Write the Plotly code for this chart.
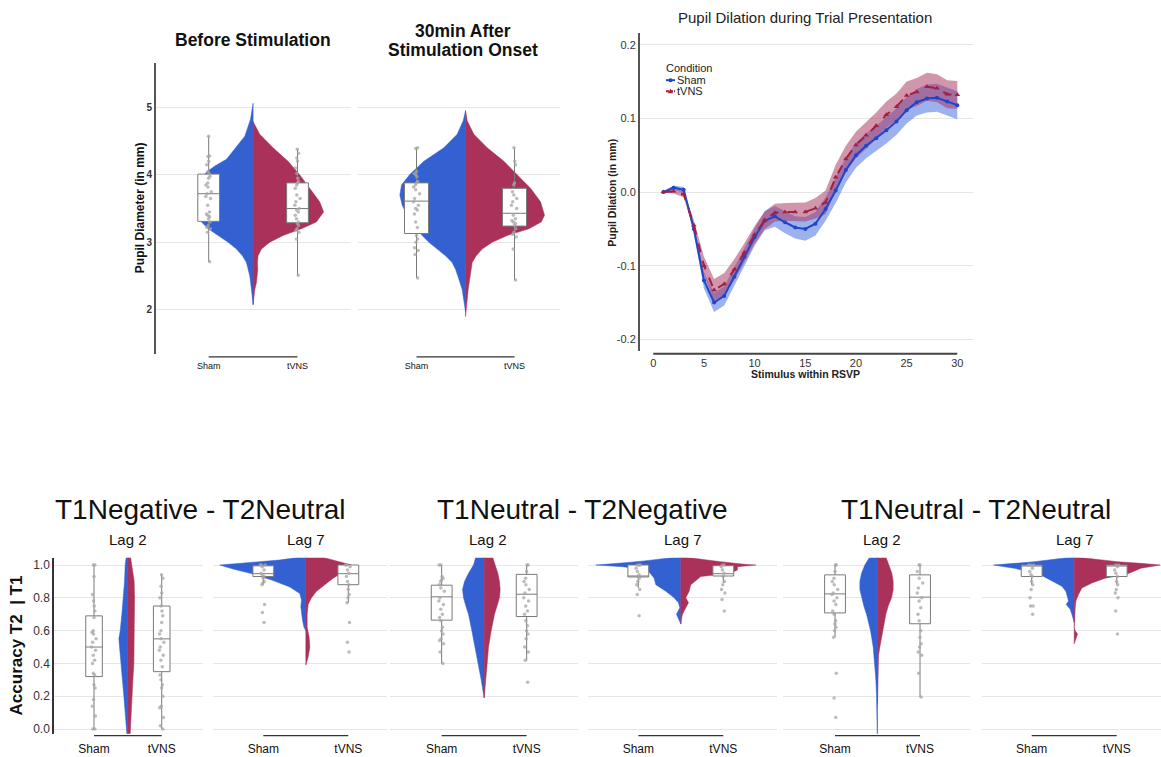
import numpy as np
import plotly.graph_objects as go

W, H = 1161, 757
FONT = "Liberation Sans, Arial, sans-serif"
BLUE = "#3461D1"
RED = "#A9315A"
GRID = "#e6e6e6"

groups = ["Sham", "tVNS"]

# ---------------- Pupil dilation time course ----------------
stimulus = list(range(1, 31))
sham_dil = [0.000, 0.006, 0.003, -0.050, -0.120, -0.150, -0.141, -0.115, -0.088, -0.061,
            -0.039, -0.033, -0.041, -0.048, -0.050, -0.043, -0.023, 0.002, 0.030, 0.050,
            0.063, 0.073, 0.084, 0.096, 0.111, 0.122, 0.127, 0.128, 0.123, 0.118]
sham_ci = [0.001, 0.003, 0.004, 0.007, 0.011, 0.013, 0.013, 0.012, 0.012, 0.012,
           0.013, 0.014, 0.015, 0.015, 0.016, 0.016, 0.016, 0.017, 0.017, 0.017,
           0.017, 0.017, 0.018, 0.018, 0.018, 0.018, 0.019, 0.019, 0.019, 0.019]
tvns_dil = [0.000, 0.001, -0.003, -0.045, -0.100, -0.133, -0.125, -0.105, -0.082, -0.058,
            -0.038, -0.028, -0.027, -0.027, -0.027, -0.022, -0.014, 0.020, 0.045, 0.064,
            0.077, 0.090, 0.105, 0.116, 0.131, 0.136, 0.143, 0.141, 0.133, 0.132]
tvns_ci = [0.001, 0.003, 0.004, 0.007, 0.012, 0.015, 0.015, 0.014, 0.013, 0.012,
           0.012, 0.012, 0.012, 0.012, 0.013, 0.014, 0.016, 0.017, 0.018, 0.018,
           0.018, 0.018, 0.018, 0.018, 0.019, 0.019, 0.019, 0.019, 0.019, 0.019]
dil_ticks = [-0.2, -0.1, 0.0, 0.1, 0.2]
dil_ticktext = ["-0.2", "-0.1", "0.0", "0.1", "0.2"]

# ---------------- Pupil diameter (violin density profiles, relative units) ----------------
before_sham_y = [5.06, 4.82, 4.57, 4.38, 4.23, 4.13, 4.05, 3.95, 3.80, 3.60, 3.40, 3.30, 3.20, 3.10,
                 3.00, 2.90, 2.80, 2.70, 2.50, 2.30, 2.10, 2.08]
before_sham_d = [0, 8, 25, 55, 80, 115, 138, 155, 163, 165, 165, 155, 135, 105, 75, 50, 32, 20, 10, 5, 2, 0]
before_tvns_y = [4.79, 4.60, 4.40, 4.20, 4.00, 3.80, 3.60, 3.45, 3.30, 3.20, 3.10, 3.00, 2.90, 2.80,
                 2.70, 2.60, 2.50, 2.40, 2.30, 2.20, 2.07]
before_tvns_d = [0, 20, 60, 105, 140, 170, 200, 212, 190, 145, 90, 50, 25, 15, 13, 14, 13, 10, 5, 2, 0]
after_sham_y = [4.95, 4.80, 4.60, 4.40, 4.20, 4.00, 3.85, 3.70, 3.55, 3.40, 3.25, 3.10, 3.00, 2.90,
                2.80, 2.70, 2.60, 2.50, 2.40, 2.30, 2.10, 1.97]
after_sham_d = [0, 7, 25, 65, 125, 168, 192, 197, 190, 175, 150, 130, 110, 85, 60, 40, 30, 23, 17, 10, 4, 0]
after_tvns_y = [4.95, 4.80, 4.60, 4.40, 4.20, 4.00, 3.80, 3.60, 3.40, 3.30, 3.20, 3.10, 3.00, 2.90,
                2.80, 2.70, 2.50, 2.30, 2.10, 1.90]
after_tvns_d = [0, 5, 25, 65, 115, 155, 195, 225, 237, 227, 190, 125, 80, 50, 32, 20, 13, 8, 4, 0]

# box stats: [q1, median, q3, lower whisker, upper whisker] for Sham, tVNS
before_box = [[3.31, 3.72, 4.01, 2.71, 4.57], [3.29, 3.50, 3.88, 2.51, 4.38]]
after_box = [[3.13, 3.61, 3.88, 2.47, 4.40], [3.24, 3.43, 3.80, 2.44, 4.40]]

before_sham_pts = [4.57, 4.28, 4.27, 4.20, 4.15, 4.05, 4.02, 3.98, 3.95, 3.88, 3.85, 3.82, 3.75, 3.72,
                   3.68, 3.65, 3.55, 3.45, 3.42, 3.40, 3.38, 3.35, 3.30, 3.25, 3.22, 3.20, 3.15, 2.71]
before_tvns_pts = [4.38, 4.32, 4.25, 4.20, 4.10, 4.02, 3.95, 3.90, 3.88, 3.85, 3.80, 3.70, 3.65, 3.60,
                   3.55, 3.50, 3.48, 3.45, 3.40, 3.35, 3.30, 3.28, 3.25, 3.20, 3.18, 3.15, 3.05, 2.51]
after_sham_pts = [4.40, 4.39, 4.05, 4.02, 4.00, 3.97, 3.90, 3.88, 3.85, 3.82, 3.78, 3.72, 3.65, 3.60,
                  3.55, 3.50, 3.48, 3.42, 3.30, 3.22, 3.10, 3.05, 3.00, 2.92, 2.88, 2.82, 2.47]
after_tvns_pts = [4.40, 4.20, 4.15, 3.88, 3.85, 3.75, 3.70, 3.65, 3.60, 3.55, 3.50, 3.40, 3.35, 3.32,
                  3.30, 3.28, 3.25, 3.20, 3.15, 3.12, 3.08, 2.90, 2.44]

# ---------------- Accuracy T2|T1 ----------------
negneu_l2_y = [1.05, 1.0, 0.9, 0.8, 0.7, 0.6, 0.55, 0.5, 0.4, 0.3, 0.2, 0.1, 0.0, -0.03]
negneu_l2_sham_d = [5, 8, 10, 13, 18, 23, 27, 25, 20, 15, 12, 8, 5, 3]
negneu_l2_tvns_d = [8, 12, 19, 20, 20, 20, 20, 20, 18, 15, 12, 10, 8, 7]
negneu_l7_sham_y = [1.05, 1.04, 1.03, 1.02, 1.01, 1.0, 0.975, 0.945, 0.905, 0.866, 0.826, 0.785, 0.745,
                    0.704, 0.664, 0.623, 0.60]
negneu_l7_sham_d = [10, 40, 80, 140, 200, 258, 218, 158, 98, 48, 18, 13, 15, 13, 10, 6, 0]
negneu_l7_tvns_y = [1.05, 1.03, 1.015, 1.0, 0.96, 0.92, 0.88, 0.84, 0.80, 0.76, 0.70, 0.62, 0.56, 0.50,
                    0.44, 0.39]
negneu_l7_tvns_d = [45, 80, 110, 137, 115, 82, 57, 32, 17, 7, 4, 4, 10, 12, 7, 0]

neuneg_l2_y = [1.05, 1.0, 0.95, 0.9, 0.85, 0.8, 0.75, 0.7, 0.6, 0.5, 0.4, 0.3, 0.25, 0.2, 0.19]
neuneg_l2_sham_d = [25, 32, 47, 59, 65, 62, 55, 47, 37, 27, 17, 9, 5, 2, 0]
neuneg_l2_tvns_d = [25, 33, 41, 46, 48, 46, 38, 31, 21, 13, 9, 5, 3, 1, 0]
neuneg_l7_sham_y = [1.05, 1.035, 1.025, 1.015, 1.005, 1.0, 0.99, 0.97, 0.92, 0.88, 0.84, 0.80, 0.77,
                    0.74, 0.70, 0.67, 0.64]
neuneg_l7_sham_d = [5, 60, 110, 160, 220, 255, 175, 100, 80, 75, 45, 20, 7, 3, 13, 7, 0]
neuneg_l7_tvns_y = [1.05, 1.035, 1.02, 1.005, 1.0, 0.99, 0.97, 0.95, 0.93, 0.88, 0.84, 0.80, 0.77,
                    0.74, 0.70, 0.67, 0.64]
neuneg_l7_tvns_d = [5, 60, 120, 190, 225, 170, 170, 150, 60, 30, 25, 15, 23, 15, 5, 2, 0]

neuneu_l2_sham_y = [1.05, 1.0, 0.95, 0.9, 0.85, 0.8, 0.75, 0.7, 0.6, 0.5, 0.4, 0.3, 0.2, 0.1, 0.0, -0.03]
neuneu_l2_sham_d = [23, 38, 48, 53, 53, 48, 41, 33, 21, 13, 8, 5, 3, 3, 1, 1]
neuneu_l2_tvns_y = [1.05, 1.0, 0.95, 0.9, 0.85, 0.8, 0.75, 0.7, 0.6, 0.5, 0.45, 0.4, 0.35, 0.25, 0.15]
neuneu_l2_tvns_d = [25, 35, 43, 47, 47, 42, 32, 25, 15, 7, 3, 2, 1, 1, 0]
neuneu_l7_sham_y = [1.05, 1.035, 1.02, 1.01, 1.0, 0.98, 0.95, 0.92, 0.89, 0.87, 0.84, 0.78, 0.76,
                    0.73, 0.70, 0.67, 0.65]
neuneu_l7_sham_d = [0, 60, 120, 180, 242, 180, 110, 82, 57, 37, 25, 17, 24, 12, 7, 4, 0]
neuneu_l7_tvns_y = [1.05, 1.035, 1.02, 1.01, 1.0, 0.98, 0.95, 0.93, 0.92, 0.89, 0.86, 0.82, 0.78,
                    0.74, 0.68, 0.64, 0.62, 0.60, 0.58, 0.55, 0.52]
neuneu_l7_tvns_d = [0, 60, 130, 200, 258, 200, 165, 120, 93, 53, 23, 13, 5, 3, 3, 1, 0, 3, 10, 6, 0]

negneu_l2_box = [[0.32, 0.50, 0.69, 0.0, 1.0], [0.35, 0.55, 0.75, 0.0, 0.94]]
negneu_l7_box = [[0.93, 0.947, 0.995, 0.88, 1.0], [0.88, 0.947, 1.0, 0.77, 1.0]]
neuneg_l2_box = [[0.664, 0.806, 0.877, 0.40, 1.0], [0.686, 0.822, 0.943, 0.417, 1.0]]
neuneg_l7_box = [[0.927, 0.933, 1.0, 0.86, 1.0], [0.933, 0.947, 0.996, 0.89, 1.0]]
neuneu_l2_box = [[0.708, 0.824, 0.94, 0.56, 1.0], [0.642, 0.804, 0.94, 0.196, 1.0]]
neuneu_l7_box = [[0.93, 0.995, 1.0, 0.88, 1.0], [0.93, 0.996, 1.0, 0.88, 1.0]]

negneu_l2_sham_pts = [1.0, 1.0, 0.93, 0.82, 0.78, 0.75, 0.72, 0.68, 0.60, 0.59, 0.58, 0.55, 0.53, 0.50,
                      0.48, 0.45, 0.42, 0.40, 0.34, 0.33, 0.27, 0.25, 0.18, 0.14, 0.08, 0.0, 0.0]
negneu_l2_tvns_pts = [0.94, 0.92, 0.87, 0.83, 0.80, 0.75, 0.72, 0.69, 0.65, 0.60, 0.58, 0.55, 0.53, 0.50,
                      0.48, 0.45, 0.42, 0.38, 0.33, 0.30, 0.27, 0.25, 0.20, 0.14, 0.13, 0.07, 0.02, 0.0]
negneu_l7_sham_pts = [1.0, 1.0, 1.0, 0.99, 0.97, 0.95, 0.94, 0.93, 0.92, 0.90, 0.89, 0.88, 0.76, 0.71, 0.65]
negneu_l7_tvns_pts = [1.0, 1.0, 0.99, 0.97, 0.95, 0.93, 0.90, 0.88, 0.85, 0.82, 0.80, 0.77, 0.65, 0.53, 0.47]
neuneg_l2_sham_pts = [1.0, 1.0, 0.93, 0.92, 0.91, 0.90, 0.88, 0.86, 0.84, 0.80, 0.78, 0.76, 0.73, 0.70,
                      0.68, 0.66, 0.62, 0.60, 0.58, 0.55, 0.54, 0.52, 0.47, 0.40]
neuneg_l2_tvns_pts = [1.0, 1.0, 0.96, 0.92, 0.90, 0.88, 0.85, 0.83, 0.80, 0.78, 0.75, 0.72, 0.70, 0.66,
                      0.63, 0.60, 0.58, 0.55, 0.50, 0.47, 0.42, 0.285]
neuneg_l7_sham_pts = [1.0, 1.0, 1.0, 0.98, 0.96, 0.94, 0.93, 0.92, 0.90, 0.88, 0.85, 0.82, 0.69]
neuneg_l7_tvns_pts = [1.0, 1.0, 0.99, 0.97, 0.95, 0.93, 0.90, 0.88, 0.85, 0.83, 0.79, 0.72]
neuneu_l2_sham_pts = [1.0, 1.0, 0.96, 0.92, 0.90, 0.88, 0.85, 0.83, 0.82, 0.80, 0.78, 0.76, 0.72, 0.70,
                      0.66, 0.64, 0.62, 0.60, 0.56, 0.34, 0.19, 0.07]
neuneu_l2_tvns_pts = [1.0, 1.0, 0.96, 0.92, 0.89, 0.86, 0.83, 0.80, 0.78, 0.74, 0.70, 0.66, 0.60, 0.56,
                      0.52, 0.50, 0.47, 0.45, 0.34, 0.196]
neuneu_l7_sham_pts = [1.0, 1.0, 1.0, 0.98, 0.96, 0.94, 0.93, 0.90, 0.88, 0.85, 0.80, 0.75, 0.75, 0.70]
neuneu_l7_tvns_pts = [1.0, 1.0, 0.99, 0.97, 0.95, 0.93, 0.90, 0.88, 0.85, 0.83, 0.80, 0.72, 0.58]

acc_ticks = [0.0, 0.2, 0.4, 0.6, 0.8, 1.0]
diam_ticks = [2, 3, 4, 5]

# ---------------- Panel layout (pixel geometry, styling) ----------------
TOP_Y = (63, 355)
BOT_Y = (560, 736.7)
TOP_YR = [1.351, 5.66]
BOT_YR = [-0.0285, 1.044]

panels = [
    dict(px=(156, 351), py=TOP_Y, xr=[-0.593, 1.602], yr=TOP_YR, ticks=diam_ticks, first=True, top=True,
         sham=(before_sham_y, before_sham_d), tvns=(before_tvns_y, before_tvns_d), scale=267,
         box=before_box, pts=(before_sham_pts, before_tvns_pts)),
    dict(px=(358, 560), py=TOP_Y, xr=[-0.597, 1.464], yr=TOP_YR, ticks=diam_ticks, first=False, top=True,
         sham=(after_sham_y, after_sham_d), tvns=(after_tvns_y, after_tvns_d), scale=294,
         box=after_box, pts=(after_sham_pts, after_tvns_pts)),
    dict(px=(54, 203), py=BOT_Y, xr=[-0.591, 1.610], yr=BOT_YR, ticks=acc_ticks, first=True, top=False,
         sham=(negneu_l2_y, negneu_l2_sham_d), tvns=(negneu_l2_y, negneu_l2_tvns_d), scale=203,
         box=negneu_l2_box, pts=(negneu_l2_sham_pts, negneu_l2_tvns_pts)),
    dict(px=(213, 387), py=BOT_Y, xr=[-0.592, 1.455], yr=BOT_YR, ticks=acc_ticks, first=False, top=False,
         sham=(negneu_l7_sham_y, negneu_l7_sham_d), tvns=(negneu_l7_tvns_y, negneu_l7_tvns_d), scale=255,
         box=negneu_l7_box, pts=(negneu_l7_sham_pts, negneu_l7_tvns_pts)),
    dict(px=(390, 578), py=BOT_Y, xr=[-0.608, 1.604], yr=BOT_YR, ticks=acc_ticks, first=False, top=False,
         sham=(neuneg_l2_y, neuneg_l2_sham_d), tvns=(neuneg_l2_y, neuneg_l2_tvns_d), scale=255,
         box=neuneg_l2_box, pts=(neuneg_l2_sham_pts, neuneg_l2_tvns_pts)),
    dict(px=(588, 777), py=BOT_Y, xr=[-0.592, 1.632], yr=BOT_YR, ticks=acc_ticks, first=False, top=False,
         sham=(neuneg_l7_sham_y, neuneg_l7_sham_d), tvns=(neuneg_l7_tvns_y, neuneg_l7_tvns_d), scale=255,
         box=neuneg_l7_box, pts=(neuneg_l7_sham_pts, neuneg_l7_tvns_pts)),
    dict(px=(783, 970), py=BOT_Y, xr=[-0.612, 1.588], yr=BOT_YR, ticks=acc_ticks, first=False, top=False,
         sham=(neuneu_l2_sham_y, neuneu_l2_sham_d), tvns=(neuneu_l2_tvns_y, neuneu_l2_tvns_d), scale=255,
         box=neuneu_l2_box, pts=(neuneu_l2_sham_pts, neuneu_l2_tvns_pts)),
    dict(px=(981.7, 1161), py=BOT_Y, xr=[-0.588, 1.521], yr=BOT_YR, ticks=acc_ticks, first=False, top=False,
         sham=(neuneu_l7_sham_y, neuneu_l7_sham_d), tvns=(neuneu_l7_tvns_y, neuneu_l7_tvns_d), scale=255,
         box=neuneu_l7_box, pts=(neuneu_l7_sham_pts, neuneu_l7_tvns_pts)),
]


def xn(n):
    return "x" if n == 1 else f"x{n}"


def yn(n):
    return "y" if n == 1 else f"y{n}"


def xkey(n):
    return "xaxis" if n == 1 else f"xaxis{n}"


def ykey(n):
    return "yaxis" if n == 1 else f"yaxis{n}"


def fx(p):
    return p / W


def fy(p):
    return 1 - p / H


fig = go.Figure()
layout = dict(
    width=W, height=H, margin=dict(l=0, r=0, t=0, b=0),
    paper_bgcolor="white", plot_bgcolor="white",
    font=dict(family=FONT, color="#222"),
    boxmode="overlay", showlegend=False,
)
shapes = []
positions = [0, 1]
BOXW = 0.245

for i, p in enumerate(panels):
    n = i + 1
    no = i + 9  # overlay x axis for boxes/points (drawn above violins)
    xa, ya, xo = xn(n), yn(n), xn(no)
    center = (positions[0] + positions[1]) / 2
    # half violins
    for (yv, dv), color, sign in ((p["sham"], BLUE, -1), (p["tvns"], RED, 1)):
        yv = np.asarray(yv, float)
        w = np.asarray(dv, float) / p["scale"]
        xs = np.concatenate([center + sign * w, np.full(len(yv), center)])
        ys = np.concatenate([yv, yv[::-1]])
        fig.add_trace(go.Scatter(x=xs, y=ys, mode="lines", fill="toself", fillcolor=color,
                                 line=dict(color=color, width=0.5), hoverinfo="skip",
                                 showlegend=False, xaxis=xa, yaxis=ya))
    # boxes
    b = p["box"]
    fig.add_trace(go.Box(x=positions, q1=[b[0][0], b[1][0]], median=[b[0][1], b[1][1]],
                         q3=[b[0][2], b[1][2]], lowerfence=[b[0][3], b[1][3]],
                         upperfence=[b[0][4], b[1][4]], width=BOXW, whiskerwidth=0,
                         fillcolor="white", line=dict(color="#7a7a7a", width=1),
                         boxpoints=False, hoverinfo="skip", showlegend=False,
                         xaxis=xo, yaxis=ya))
    # jittered raw points
    for pos, pts in zip(positions, p["pts"]):
        fig.add_trace(go.Box(y=pts, x0=pos, boxpoints="all", jitter=0.3, pointpos=0, width=BOXW,
                             fillcolor="rgba(0,0,0,0)", line=dict(color="rgba(0,0,0,0)", width=0),
                             marker=dict(color="rgba(165,165,165,0.75)", size=3.5),
                             hoverinfo="skip", showlegend=False, xaxis=xo, yaxis=ya))
    top = p["top"]
    layout[xkey(n)] = dict(domain=[fx(p["px"][0]), fx(p["px"][1])], range=p["xr"], anchor=ya,
                           tickvals=positions, ticktext=groups, showgrid=False, zeroline=False,
                           showline=False, ticks="", fixedrange=True,
                           tickfont=dict(size=9 if top else 12, color="#111"),
                           ticklabelstandoff=5 if top else 6)
    layout[xkey(no)] = dict(overlaying=xa, range=p["xr"], anchor=ya, visible=False, fixedrange=True)
    layout[ykey(n)] = dict(domain=[fy(p["py"][1]), fy(p["py"][0])], range=p["yr"], anchor=xa,
                           tickvals=p["ticks"], showgrid=True, gridcolor=GRID, gridwidth=1,
                           zeroline=False, ticks="", showticklabels=p["first"],
                           showline=p["first"], linecolor="#555" if top else "#333",
                           linewidth=2 if top else 1.5, fixedrange=True,
                           tickformat=".1f" if not top else "d",
                           tickfont=dict(size=10, color="#333", weight="bold") if top
                           else dict(size=12, color="#333"))
    shapes.append(dict(type="line", xref=xa, x0=positions[0], x1=positions[1],
                       yref=f"{ya} domain", y0=-0.011, y1=-0.011,
                       line=dict(color="#333", width=1.2)))

# ---------------- line chart ----------------
LX, LY = 17, 17
lxa, lya = xn(LX), yn(LY)
SHAM_LINE = "#1F45C8"
TVNS_LINE = "#A3203F"
for vals, ci, fillc in ((sham_dil, sham_ci, "rgba(60,100,222,0.5)"),
                        (tvns_dil, tvns_ci, "rgba(165,45,90,0.5)")):
    v = np.asarray(vals)
    c = np.asarray(ci)
    fig.add_trace(go.Scatter(x=stimulus, y=v - c, mode="lines", line=dict(width=0), hoverinfo="skip",
                             showlegend=False, xaxis=lxa, yaxis=lya))
    fig.add_trace(go.Scatter(x=stimulus, y=v + c, mode="lines", line=dict(width=0), fill="tonexty",
                             fillcolor=fillc, hoverinfo="skip", showlegend=False, xaxis=lxa, yaxis=lya))
fig.add_trace(go.Scatter(x=stimulus, y=sham_dil, name="Sham", mode="lines+markers",
                         line=dict(color=SHAM_LINE, width=2), marker=dict(symbol="circle", size=4),
                         xaxis=lxa, yaxis=lya))
fig.add_trace(go.Scatter(x=stimulus, y=tvns_dil, name="tVNS", mode="lines+markers",
                         line=dict(color=TVNS_LINE, width=2, dash="dash"),
                         marker=dict(symbol="triangle-up", size=5), xaxis=lxa, yaxis=lya))
layout[xkey(LX)] = dict(domain=[fx(640), fx(973)], range=[-1.313, 31.55], anchor=lya,
                        tickvals=[0, 5, 10, 15, 20, 25, 30], showgrid=False, zeroline=False,
                        showline=False, ticks="", fixedrange=True, ticklabelstandoff=4,
                        tickfont=dict(size=11, color="#333"))
layout[ykey(LY)] = dict(domain=[fy(352), fy(33)], range=[-0.2153, 0.2162], anchor=lxa,
                        tickvals=dil_ticks, ticktext=dil_ticktext, showgrid=True, gridcolor=GRID,
                        zeroline=False, showline=True, linecolor="#555", linewidth=2, ticks="",
                        fixedrange=True, tickfont=dict(size=11, color="#333"))
shapes.append(dict(type="line", xref=lxa, x0=0, x1=30, yref=f"{lya} domain", y0=-0.01, y1=-0.01,
                   line=dict(color="#444", width=2)))

# ---------------- text ----------------
annotations = []


def txt(text, x, y, size, bold=False, angle=0, color="#111", anchor="center"):
    annotations.append(dict(text=text, x=fx(x), y=fy(y), xref="paper", yref="paper",
                            xanchor=anchor, yanchor="middle", showarrow=False, textangle=angle,
                            font=dict(size=size, color=color, family=FONT,
                                      weight="bold" if bold else "normal")))


# compact legend (key for the line chart)
txt("Condition", 664, 68, 11, color="#222", anchor="left")
txt("Sham", 675, 80, 11, color="#222", anchor="left")
txt("tVNS", 675, 91, 11, color="#222", anchor="left")
shapes.append(dict(type="line", xref="paper", yref="paper", x0=fx(666), x1=fx(675), y0=fy(80.5),
                   y1=fy(80.5), line=dict(color=SHAM_LINE, width=2)))
shapes.append(dict(type="circle", xref="paper", yref="paper", x0=fx(668.5), x1=fx(672.5),
                   y0=fy(82.5), y1=fy(78.5), fillcolor=SHAM_LINE, line=dict(width=0)))
shapes.append(dict(type="line", xref="paper", yref="paper", x0=fx(666), x1=fx(675), y0=fy(91.5),
                   y1=fy(91.5), line=dict(color=TVNS_LINE, width=2, dash="3px,1px")))
shapes.append(dict(type="path", xref="paper", yref="paper",
                   path=f"M {fx(668):.5f},{fy(93.5):.5f} L {fx(673):.5f},{fy(93.5):.5f} "
                        f"L {fx(670.5):.5f},{fy(88.8):.5f} Z",
                   fillcolor=TVNS_LINE, line=dict(width=0)))

txt("Before Stimulation", 253, 40, 17.5, bold=True)
txt("30min After", 463, 31, 17.5, bold=True)
txt("Stimulation Onset", 463, 50, 17.5, bold=True)
txt("Pupil Diameter (in mm)", 140, 209, 12, bold=True, angle=-90)
txt("Pupil Dilation during Trial Presentation", 805, 18, 15, color="#222")
txt("Pupil Dilation (in mm)", 612, 193.5, 10.5, bold=True, angle=-90, color="#222")
txt("Stimulus within RSVP", 805, 375, 10.5, bold=True, color="#222")
txt("T1Negative - T2Neutral", 200, 512, 28)
txt("T1Neutral - T2Negative", 582, 512, 28)
txt("T1Neutral - T2Neutral", 976, 512, 28)
for lx, lab in ((128, "Lag 2"), (306, "Lag 7"), (488, "Lag 2"), (683, "Lag 7"),
                (882, "Lag 2"), (1075, "Lag 7")):
    txt(lab, lx, 542, 15)
txt("Accuracy T2\u00a0\u00a0| T1", 16, 648, 17, bold=True, angle=-90)

layout["annotations"] = annotations
layout["shapes"] = shapes
fig.update_layout(**layout)
fig.write_html("out.html", config={"displayModeBar": False},
               post_script="document.body.style.margin='0px';document.body.style.padding='0px';")
